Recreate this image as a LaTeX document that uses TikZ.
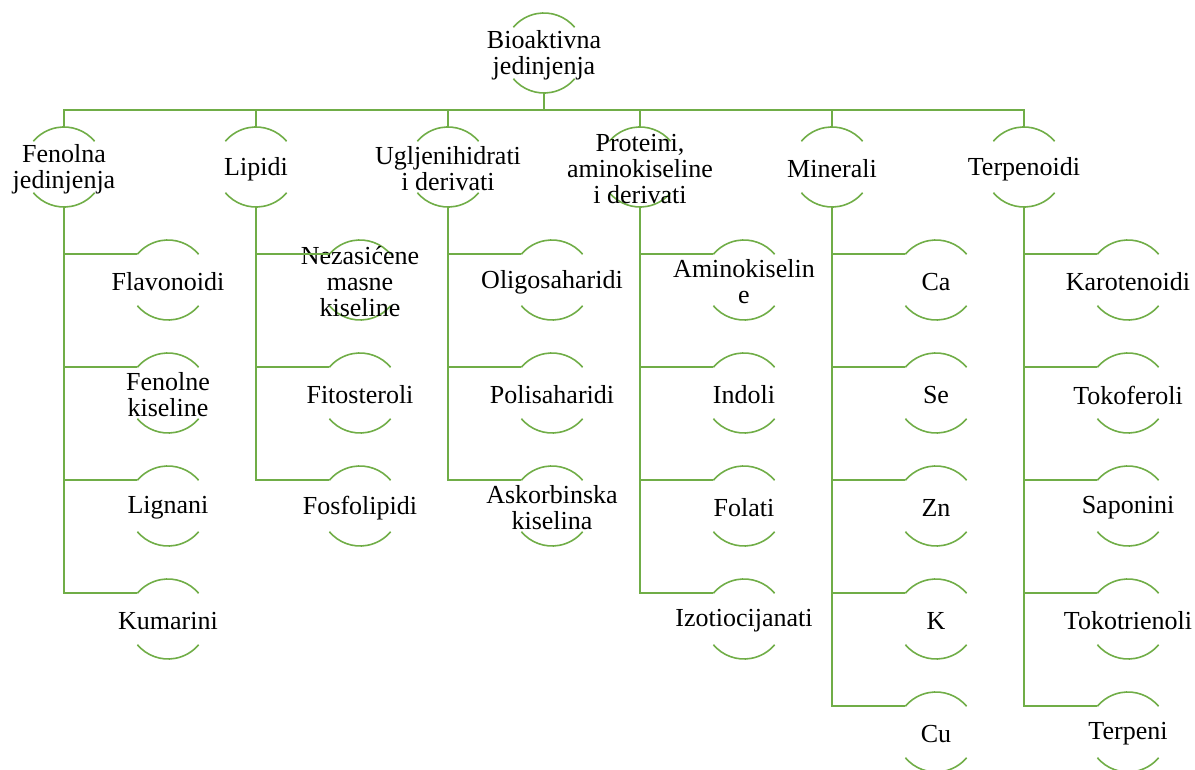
\documentclass[tikz,border=0pt]{standalone}
\usepackage{fontspec}
\setmainfont{Liberation Serif}
\definecolor{leafgreen}{RGB}{112,173,71}
\begin{document}
\begin{tikzpicture}[x=1pt,y=-1pt,
  ring/.style={circle,minimum size=80pt,inner sep=0pt,outer sep=0pt},
  lbl/.style={align=center,inner sep=0pt,font=\fontsize{26}{26}\selectfont},
  link/.style={draw=leafgreen,line width=1.6pt},
]
\useasboundingbox (0,0) rectangle (1195,770);

% one entry: invisible ring, two arcs, centred label
\newcommand{\entry}[4]{%
  \node[ring] (#1) at (#2,#3) {};
  \draw[link] (#1.40) arc[start angle=40,end angle=140,radius=40pt];
  \draw[link] (#1.220) arc[start angle=220,end angle=320,radius=40pt];
  \node[lbl] (#1t) at (#2,#3+2) {#4};
}

% root
\entry{root}{544}{53}{Bioaktivna\\jedinjenja}
\coordinate (bus) at (544,110);
\draw[link] (root.south) -- (bus);

% first level
\entry{fen}{64}{167}{Fenolna\\jedinjenja}
\entry{lip}{256}{167}{Lipidi}
\entry{ugl}{448}{167}{Ugljenihidrati\\i derivati}
\entry{pro}{640}{167}{Proteini,\\aminokiseline\\i derivati}
\entry{min}{832}{167}{Minerali}
\entry{ter}{1024}{167}{Terpenoidi}
\foreach \g in {fen,lip,ugl,pro,min,ter}
  \draw[link] (bus) -| (\g.north);

% fenolna jedinjenja
\entry{flav}{168}{280}{Flavonoidi}
\entry{fkis}{168}{393}{Fenolne\\kiseline}
\entry{lign}{168}{506}{Lignani}
\entry{kum}{168}{619}{Kumarini}
\foreach \c in {flav,fkis,lign,kum} \draw[link] (fen.south) |- (\c.140);

% lipidi
\entry{nez}{360}{280}{Nezasićene\\masne\\kiseline}
\entry{fito}{360}{393}{Fitosteroli}
\entry{fosf}{360}{506}{Fosfolipidi}
\foreach \c in {nez,fito,fosf} \draw[link] (lip.south) |- (\c.140);

% ugljenihidrati
\entry{olig}{552}{280}{Oligosaharidi}
\entry{poli}{552}{393}{Polisaharidi}
\entry{ask}{552}{506}{Askorbinska\\kiselina}
\foreach \c in {olig,poli,ask} \draw[link] (ugl.south) |- (\c.140);

% proteini
\entry{amin}{744}{280}{Aminokiselin\\e}
\entry{indo}{744}{393}{Indoli}
\entry{fola}{744}{506}{Folati}
\entry{izot}{744}{619}{Izotiocijanati}
\foreach \c in {amin,indo,fola,izot} \draw[link] (pro.south) |- (\c.140);

% minerali
\entry{ca}{936}{280}{Ca}
\entry{se}{936}{393}{Se}
\entry{zn}{936}{506}{Zn}
\entry{k}{936}{619}{K}
\entry{cu}{936}{732}{Cu}
\foreach \c in {ca,se,zn,k,cu} \draw[link] (min.south) |- (\c.140);

% terpenoidi
\entry{karo}{1128}{280}{Karotenoidi}
\entry{toko}{1128}{393}{Tokoferoli}
\entry{sapo}{1128}{506}{Saponini}
\entry{tokt}{1128}{619}{Tokotrienoli}
\entry{terp}{1128}{732}{Terpeni}
\foreach \c in {karo,toko,sapo,tokt,terp} \draw[link] (ter.south) |- (\c.140);
\end{tikzpicture}
\end{document}
